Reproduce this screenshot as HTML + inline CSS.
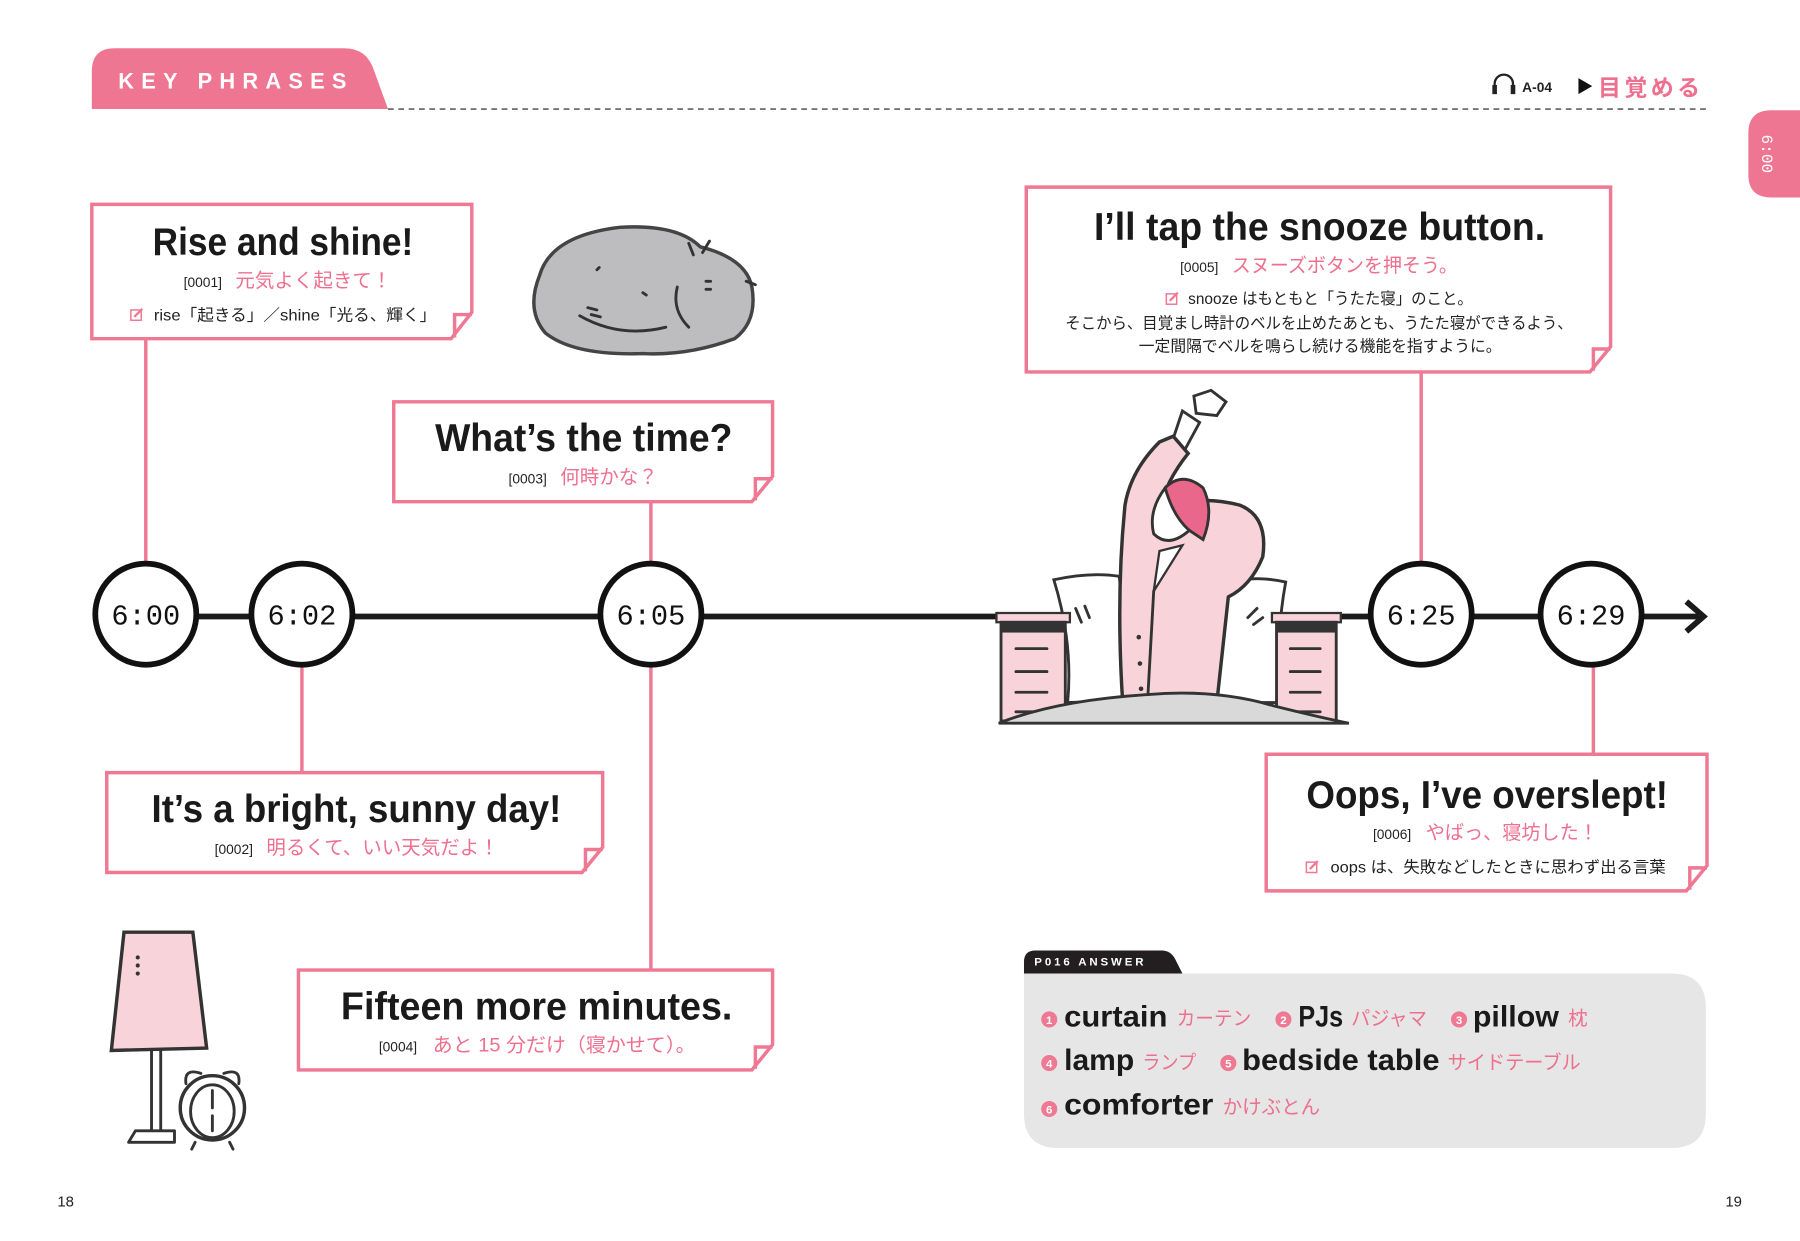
<!DOCTYPE html>
<html><head><meta charset="utf-8"><style>
html,body{margin:0;padding:0;background:#fff;}
svg{display:block}
.t{font-family:"Liberation Sans","Noto Sans CJK JP",sans-serif;font-weight:bold;fill:#1a1a1a}
.n{font-family:"Liberation Sans","Noto Sans CJK JP",sans-serif;font-size:12px;fill:#222}
.p{font-family:"Liberation Sans","Noto Sans CJK JP",sans-serif;font-size:17px;fill:#ee6f8e}
.s{font-family:"Liberation Sans","Noto Sans CJK JP",sans-serif;font-size:14px;fill:#222}
.d{font-family:"Liberation Mono",monospace;font-size:25px;fill:#111}
.box{fill:#fff;stroke:#ef7893;stroke-width:3}
.ln{stroke:#ef7893;stroke-width:3;fill:none}
.k{stroke:#333;stroke-width:2.5;fill:none;stroke-linecap:round;stroke-linejoin:round}
</style></head><body>
<svg width="1800" height="1241" viewBox="0 0 1568 1081" preserveAspectRatio="none" xmlns="http://www.w3.org/2000/svg">
<defs>
<g id="pen"><rect x="0" y="2" width="9" height="9" fill="none" stroke="#ef7893" stroke-width="1.3"/><path d="M3 8 L10 1" stroke="#ef7893" stroke-width="2"/></g>
</defs>
<!-- header -->
<path d="M80 95 V62 Q80 42 100 42 H300 Q320 42 326 62 L338 95 Z" fill="#ef7693"/>
<text x="103" y="77" font-family="Liberation Sans,sans-serif" font-weight="bold" font-size="19" fill="#fff" letter-spacing="6.3">KEY PHRASES</text>
<line x1="338" y1="95" x2="1488" y2="95" stroke="#444" stroke-width="1.3" stroke-dasharray="5,4"/>
<path d="M1302 80 V73 A8 8 0 0 1 1318 73 V80" fill="none" stroke="#222" stroke-width="2"/>
<rect x="1300" y="74" width="4" height="8" fill="#222"/><rect x="1316" y="74" width="4" height="8" fill="#222"/>
<text x="1326" y="80" font-family="Liberation Sans,sans-serif" font-weight="bold" font-size="12" fill="#222">A-04</text>
<path d="M1375 68 L1387 75 L1375 82 Z" fill="#111"/>
<text x="1392" y="83" font-family="Liberation Sans,'Noto Sans CJK JP',sans-serif" font-weight="bold" font-size="20" fill="#ee6f8e" letter-spacing="3">目覚める</text>
<path d="M1568 96 H1543 Q1523 96 1523 116 V152 Q1523 172 1543 172 H1568 Z" fill="#ef7693"/>
<text transform="translate(1535,134) rotate(90)" text-anchor="middle" font-family="Liberation Mono,monospace" font-size="14" fill="#fff">6:00</text>

<!-- connectors -->
<line class="ln" x1="127" y1="295" x2="127" y2="490"/>
<line class="ln" x1="263" y1="580" x2="263" y2="673"/>
<line class="ln" x1="567" y1="437" x2="567" y2="490"/>
<line class="ln" x1="567" y1="580" x2="567" y2="845"/>
<line class="ln" x1="1238" y1="324" x2="1238" y2="490"/>
<line class="ln" x1="1388" y1="580" x2="1388" y2="657"/>

<!-- timeline -->
<line x1="127" y1="537" x2="1483" y2="537" stroke="#1a1a1a" stroke-width="5"/>
<path d="M1469 524 L1484 537 L1469 550" fill="none" stroke="#1a1a1a" stroke-width="5"/>
<g fill="#fff" stroke="#111" stroke-width="5">
<circle cx="127" cy="535" r="44"/><circle cx="263" cy="535" r="44"/><circle cx="567" cy="535" r="44"/><circle cx="1238" cy="535" r="44"/><circle cx="1386" cy="535" r="44"/>
</g>
<g class="d" text-anchor="middle">
<text x="127" y="544">6:00</text><text x="263" y="544">6:02</text><text x="567" y="544">6:05</text><text x="1238" y="544">6:25</text><text x="1386" y="544">6:29</text>
</g>

<!-- box 1 -->
<path class="box" d="M80 178 H411 V272 L393 295 H80 Z"/>
<path class="ln" d="M411 274 H396 V294"/>
<text class="t" x="133" y="222" font-size="34" textLength="227" lengthAdjust="spacingAndGlyphs">Rise and shine!</text>
<text class="n" x="160" y="250">[0001]</text><text class="p" x="205" y="250">元気よく起きて！</text>
<use href="#pen" x="114" y="268"/>
<text class="s" x="134" y="279" textLength="246" lengthAdjust="spacingAndGlyphs">rise「起きる」／shine「光る、輝く」</text>

<!-- box 3 -->
<path class="box" d="M343 350 H673 V415 L655 437 H343 Z"/>
<path class="ln" d="M673 417 H658 V436"/>
<text class="t" x="379" y="393" font-size="34" textLength="259" lengthAdjust="spacingAndGlyphs">What’s the time?</text>
<text class="n" x="443" y="421">[0003]</text><text class="p" x="488" y="421">何時かな？</text>

<!-- box 2 -->
<path class="box" d="M93 673 H525 V738 L507 760 H93 Z"/>
<path class="ln" d="M525 740 H510 V759"/>
<text class="t" x="132" y="716" font-size="34" textLength="357" lengthAdjust="spacingAndGlyphs">It’s a bright, sunny day!</text>
<text class="n" x="187" y="744">[0002]</text><text class="p" x="232" y="744">明るくて、いい天気だよ！</text>

<!-- box 4 -->
<path class="box" d="M260 845 H673 V910 L655 932 H260 Z"/>
<path class="ln" d="M673 912 H658 V931"/>
<text class="t" x="297" y="888" font-size="34" textLength="341" lengthAdjust="spacingAndGlyphs">Fifteen more minutes.</text>
<text class="n" x="330" y="916">[0004]</text><text class="p" x="377" y="916" textLength="229" lengthAdjust="spacingAndGlyphs">あと 15 分だけ（寝かせて）。</text>

<!-- box 5 -->
<path class="box" d="M894 163 H1403 V302 L1385 324 H894 Z"/>
<path class="ln" d="M1403 304 H1388 V323"/>
<text class="t" x="953" y="209" font-size="34" textLength="393" lengthAdjust="spacingAndGlyphs">I’ll tap the snooze button.</text>
<text class="n" x="1028" y="237">[0005]</text><text class="p" x="1073" y="237" textLength="197" lengthAdjust="spacingAndGlyphs">スヌーズボタンを押そう。</text>
<use href="#pen" x="1016" y="254"/>
<text class="s" x="1035" y="265" textLength="248" lengthAdjust="spacingAndGlyphs">snooze はもともと「うたた寝」のこと。</text>
<text class="s" x="928" y="286" textLength="442" lengthAdjust="spacingAndGlyphs">そこから、目覚まし時計のベルを止めたあとも、うたた寝ができるよう、</text>
<text class="s" x="992" y="306" textLength="316" lengthAdjust="spacingAndGlyphs">一定間隔でベルを鳴らし続ける機能を指すように。</text>

<!-- box 6 -->
<path class="box" d="M1103 657 H1487 V754 L1469 776 H1103 Z"/>
<path class="ln" d="M1487 756 H1472 V775"/>
<text class="t" x="1138" y="704" font-size="34" textLength="315" lengthAdjust="spacingAndGlyphs">Oops, I’ve overslept!</text>
<text class="n" x="1196" y="731">[0006]</text><text class="p" x="1242" y="731" textLength="150" lengthAdjust="spacingAndGlyphs">やばっ、寝坊した！</text>
<use href="#pen" x="1138" y="749"/>
<text class="s" x="1159" y="760" textLength="292" lengthAdjust="spacingAndGlyphs">oops は、失敗などしたときに思わず出る言葉</text>

<!-- answer -->
<path d="M892 848 V838 Q892 828 902 828 H1012 Q1020 828 1024 836 L1030 848 Z" fill="#231f20"/>
<text x="901" y="841" font-family="Liberation Sans,sans-serif" font-weight="bold" font-size="10" fill="#fff" letter-spacing="2.5">P016 ANSWER</text>
<path d="M892 848 H1456 Q1486 848 1486 878 V970 Q1486 1000 1456 1000 H922 Q892 1000 892 970 Z" fill="#e6e6e6"/>
<g fill="#ef7893"><circle cx="914" cy="888" r="7"/><circle cx="1118" cy="888" r="7"/><circle cx="1271" cy="888" r="7"/><circle cx="914" cy="926" r="7"/><circle cx="1070" cy="926" r="7"/><circle cx="914" cy="966" r="7"/></g>
<g font-family="Liberation Sans,sans-serif" font-size="10" font-weight="bold" fill="#fff" text-anchor="middle">
<text x="914" y="892">1</text><text x="1118" y="892">2</text><text x="1271" y="892">3</text><text x="914" y="930">4</text><text x="1070" y="930">5</text><text x="914" y="970">6</text></g>
<g class="t" font-size="26">
<text x="927" y="894" textLength="90" lengthAdjust="spacingAndGlyphs">curtain</text>
<text x="1131" y="894" textLength="39" lengthAdjust="spacingAndGlyphs">PJs</text>
<text x="1283" y="894" textLength="75" lengthAdjust="spacingAndGlyphs">pillow</text>
<text x="927" y="932" textLength="61" lengthAdjust="spacingAndGlyphs">lamp</text>
<text x="1082" y="932" textLength="172" lengthAdjust="spacingAndGlyphs">bedside table</text>
<text x="927" y="971" textLength="130" lengthAdjust="spacingAndGlyphs">comforter</text></g>
<g class="p" font-size="16">
<text x="1025" y="893" textLength="65" lengthAdjust="spacingAndGlyphs">カーテン</text>
<text x="1177" y="893" textLength="66" lengthAdjust="spacingAndGlyphs">パジャマ</text>
<text x="1366" y="893">枕</text>
<text x="995" y="931" textLength="47" lengthAdjust="spacingAndGlyphs">ランプ</text>
<text x="1261" y="931" textLength="116" lengthAdjust="spacingAndGlyphs">サイドテーブル</text>
<text x="1065" y="970" textLength="85" lengthAdjust="spacingAndGlyphs">かけぶとん</text></g>

<text x="50" y="1051" font-family="Liberation Sans,sans-serif" font-size="13" fill="#222">18</text>
<text x="1503" y="1051" font-family="Liberation Sans,sans-serif" font-size="13" fill="#222">19</text>

<!-- cat -->
<path d="M470 240 Q480 205 540 198 Q590 195 610 215 Q650 225 655 250 Q660 280 640 295 Q600 310 560 308 Q500 310 475 290 Q458 270 470 240 Z" fill="#bdbdbf" stroke="#444" stroke-width="3"/>
<path class="k" d="M600 212 L604 222 M612 220 L618 210 M650 245 L658 248 M590 250 Q585 270 600 285 M505 275 Q540 295 580 285 M520 235 l2 -2 M560 255 l3 2 M615 245 l4 0 M615 252 l4 0 M512 268 l8 2 M515 274 l8 2"/>
<!-- lamp & clock -->
<path d="M108 812 L168 812 L180 913 L97 915 Z" fill="#f9d3da" stroke="#333" stroke-width="3"/>
<circle cx="120" cy="834" r="1.8" fill="#333"/><circle cx="120" cy="841" r="1.8" fill="#333"/><circle cx="120" cy="848" r="1.8" fill="#333"/>
<path class="k" d="M132 915 V985 M140 915 V985 M118 985 H152 V995 H112 Z"/>
<circle cx="185" cy="965" r="28" fill="#fff" stroke="#333" stroke-width="3"/>
<ellipse cx="185" cy="968" rx="19" ry="23" fill="none" stroke="#333" stroke-width="2.5"/>
<path class="k" d="M185 950 V965 M185 972 V985 M162 944 Q160 930 175 935 M208 944 Q210 930 195 935 M170 995 l-3 6 M200 995 l3 6"/>

<!-- bed / girl -->
<path d="M918 505 Q950 498 975 502 L985 610 L930 612 Q935 560 918 505 Z" fill="#fff" stroke="#333" stroke-width="2.5"/>
<path d="M1060 510 Q1090 500 1120 507 Q1110 560 1118 612 L1055 612 Z" fill="#fff" stroke="#333" stroke-width="2.5"/>
<path class="k" d="M937 530 l5 12 M945 528 l4 10 M1095 530 l-8 8 M1100 538 l-8 6"/>
<path d="M868 534 H932 V542 H868 Z" fill="#f9d3da" stroke="#333" stroke-width="2"/>
<rect x="872" y="542" width="56" height="86" fill="#f9d3da" stroke="#333" stroke-width="2.5"/>
<rect x="872" y="542" width="56" height="9" fill="#333"/>
<path class="k" d="M885 565 H912 M885 585 H912 M885 603 H912 M885 620 H912"/>
<path d="M1108 534 H1168 V542 H1108 Z" fill="#f9d3da" stroke="#333" stroke-width="2"/>
<rect x="1112" y="542" width="52" height="86" fill="#f9d3da" stroke="#333" stroke-width="2.5"/>
<rect x="1112" y="542" width="52" height="9" fill="#333"/>
<path class="k" d="M1124 565 H1150 M1124 585 H1150 M1124 603 H1150 M1124 620 H1150"/>
<!-- raised arm -->
<path d="M1030 358 L1045 368 L1032 392 L1020 388 Z" fill="#fff" stroke="#333" stroke-width="2.5"/>
<path d="M1040 345 L1055 340 L1068 350 L1060 362 L1042 360 Z" fill="#fff" stroke="#333" stroke-width="2.5"/>
<!-- torso -->
<path d="M978 612 Q972 520 980 440 Q985 410 1010 385 L1022 380 L1035 395 Q1015 420 1010 445 Q1040 430 1080 440 Q1105 450 1100 485 Q1090 510 1070 520 L1060 612 Z" fill="#f9d3da" stroke="#333" stroke-width="3"/>
<path d="M1015 425 Q1030 410 1048 425 Q1058 445 1048 470 L1036 462 Q1020 450 1015 425 Z" fill="#e8678a" stroke="#333" stroke-width="2.5"/>
<path d="M1015 425 Q1000 445 1005 465 Q1018 478 1036 462 Q1022 450 1015 425 Z" fill="#fff" stroke="#333" stroke-width="2.5"/>
<path d="M1010 480 L1030 475 L1005 515 Z" fill="#fff" stroke="#333" stroke-width="2"/>
<path class="k" d="M1005 515 L1000 605"/>
<circle cx="992" cy="555" r="2" fill="#333"/><circle cx="993" cy="578" r="2" fill="#333"/><circle cx="994" cy="600" r="2" fill="#333"/>
<path d="M870 630 Q920 610 1000 605 Q1060 600 1110 615 Q1150 625 1175 630 Z" fill="#d9d9d9" stroke="#333" stroke-width="2.5"/>
</svg>
</body></html>
